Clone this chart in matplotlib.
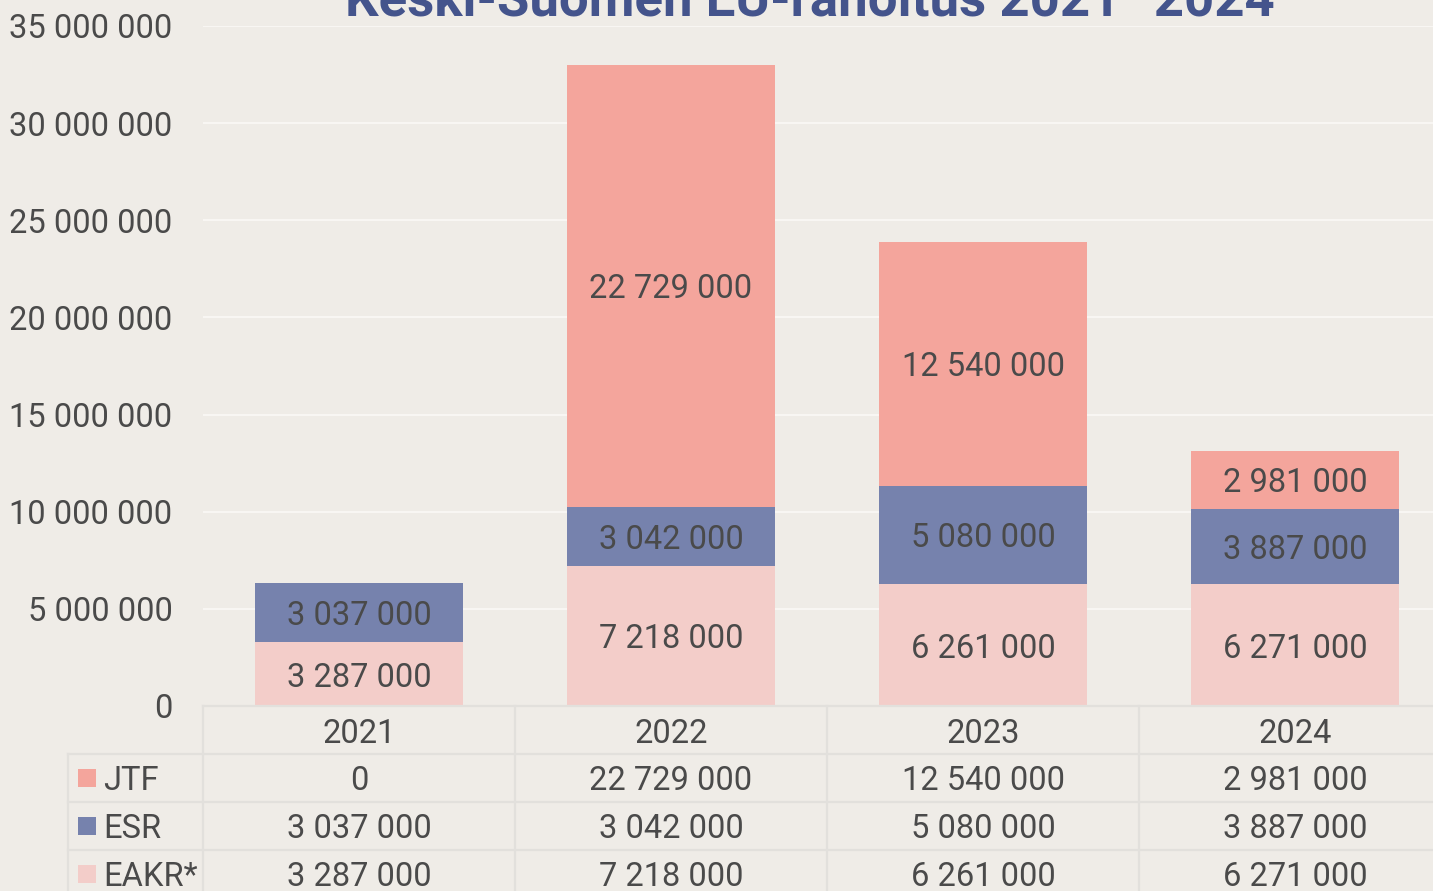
import matplotlib.pyplot as plt
from matplotlib.patches import Rectangle
from matplotlib.lines import Line2D
import numpy as np

years = ["2021", "2022", "2023", "2024"]
series = ["JTF", "ESR", "EAKR*"]
eakr = [3287000, 7218000, 6261000, 6271000]
esr = [3037000, 3042000, 5080000, 3887000]
jtf = [0, 22729000, 12540000, 2981000]
yticks = [0, 5000000, 10000000, 15000000, 20000000, 25000000, 30000000, 35000000]

bg = "#efece7"
colors = {"JTF": "#f4a59c", "ESR": "#7682ad", "EAKR*": "#f3cdc9"}
text_color = "#4a4a4a"
line_color = "#e2e0dc"
title_color = "#44548c"
fs = 23.5

plt.rcParams["font.family"] = ["Roboto", "DejaVu Sans"]


def fmt(v):
    return f"{v:,}".replace(",", " ")


W, H = 1433, 891
fig = plt.figure(figsize=(W / 100, H / 100), dpi=100, facecolor=bg)
x0, x1 = 203, 1433
y_zero, y_top = 706, 26
ax = fig.add_axes([x0 / W, 1 - y_zero / H, (x1 - x0) / W, (y_zero - y_top) / H])
ax.set_facecolor(bg)

x = np.arange(len(years))
width = 208 / 312
ax.bar(x, eakr, width, color=colors["EAKR*"], zorder=2)
ax.bar(x, esr, width, bottom=eakr, color=colors["ESR"], zorder=2)
bottom2 = np.array(eakr) + np.array(esr)
ax.bar(x, jtf, width, bottom=bottom2, color=colors["JTF"], zorder=2)

for i in range(len(years)):
    for vals, base in ((eakr, 0), (esr, eakr[i]), (jtf, bottom2[i])):
        v = vals[i]
        if v > 0:
            ax.annotate(fmt(v), (i, base + v / 2), xytext=(0, -2.5),
                        textcoords="offset points", ha="center", va="center",
                        fontsize=fs, color=text_color, zorder=3)

ax.set_xlim(-0.5, -0.5 + (x1 - x0) / 312)
ax.set_ylim(0, 35000000)
ax.set_yticks(yticks)
ax.set_yticklabels([fmt(v) for v in yticks], fontsize=fs, color=text_color)
ax.tick_params(axis="y", length=0, pad=22)
ax.set_xticks([])
ax.grid(axis="y", color="#f8f6f3", linewidth=1.5, zorder=1)
for s in ax.spines.values():
    s.set_visible(False)

# data table below the plot, in pixel coordinates
def fx(px):
    return px / W


def fy(py):
    return 1 - py / H


col_edges = [203, 515, 827, 1139, 1451]
row_edges = [706, 754, 802, 850, 898]
lw = 1.6
for c in col_edges:
    fig.add_artist(Line2D([fx(c), fx(c)], [fy(706), fy(898)], color=line_color, lw=lw))
fig.add_artist(Line2D([fx(68), fx(68)], [fy(754), fy(898)], color=line_color, lw=lw))
fig.add_artist(Line2D([fx(203), fx(1451)], [fy(706), fy(706)], color=line_color, lw=lw))
for r in row_edges[1:]:
    fig.add_artist(Line2D([fx(68), fx(1451)], [fy(r), fy(r)], color=line_color, lw=lw))

centers = [(col_edges[i] + col_edges[i + 1]) / 2 for i in range(len(years))]
for i, yr in enumerate(years):
    fig.text(fx(centers[i]), fy(734), yr, ha="center", va="center",
             fontsize=fs, color=text_color)

rows = [("JTF", jtf), ("ESR", esr), ("EAKR*", eakr)]
for r, (name, vals) in enumerate(rows):
    yc = (row_edges[r + 1] + row_edges[r + 2]) / 2
    fig.add_artist(Rectangle((fx(78), fy(yc + 9)), 18 / W, 18 / H,
                             facecolor=colors[name], edgecolor="none"))
    fig.text(fx(103), fy(yc + 3), name, ha="left", va="center",
             fontsize=fs, color=text_color)
    for i, v in enumerate(vals):
        fig.text(fx(centers[i]), fy(yc + 3), fmt(v), ha="center", va="center",
                 fontsize=fs, color=text_color)

fig.text(fx(810), fy(15), "Keski-Suomen EU-rahoitus 2021\u20132024", ha="center",
         va="baseline", fontsize=38, fontweight="bold", color=title_color)

fig.savefig("out.png", dpi=100, facecolor=bg)
